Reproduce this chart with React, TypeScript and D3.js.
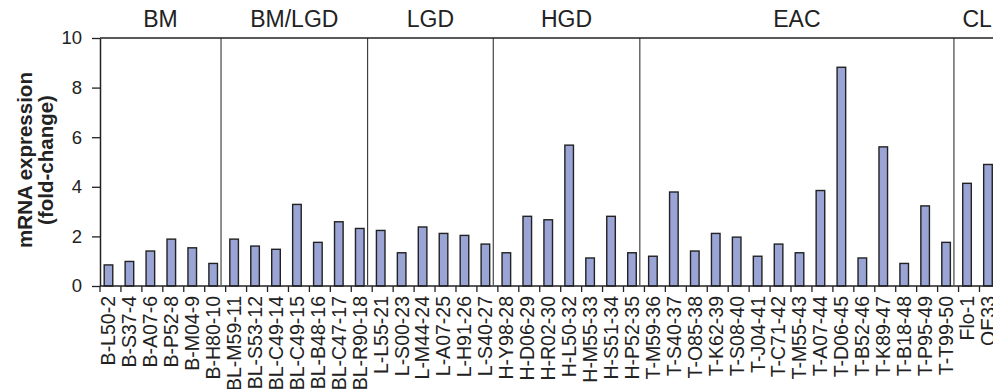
import React, { useEffect, useRef } from 'react';
import * as d3 from 'd3';

// sample names, in the order they are plotted
const samples = [
  'B-L50-2', 'B-S37-4', 'B-A07-6', 'B-P52-8', 'B-M04-9', 'B-H80-10',
  'BL-M59-11', 'BL-S53-12', 'BL-C49-14', 'BL-C49-15', 'BL-B48-16', 'BL-C47-17', 'BL-R90-18',
  'L-L55-21', 'L-S00-23', 'L-M44-24', 'L-A07-25', 'L-H91-26', 'L-S40-27',
  'H-Y98-28', 'H-D06-29', 'H-R02-30', 'H-L50-32', 'H-M55-33', 'H-S51-34', 'H-P52-35',
  'T-M59-36', 'T-S40-37', 'T-O85-38', 'T-K62-39', 'T-S08-40', 'T-J04-41', 'T-C71-42',
  'T-M55-43', 'T-A07-44', 'T-D06-45', 'T-B52-46', 'T-K89-47', 'T-B18-48', 'T-P95-49', 'T-T99-50',
  'Flo-1', 'OE33',
];

// mRNA fold-change per sample
const foldChange = [
  0.85, 0.99, 1.41, 1.89, 1.54, 0.91,
  1.89, 1.61, 1.48, 3.29, 1.76, 2.59, 2.32,
  2.24, 1.34, 2.38, 2.12, 2.04, 1.69,
  1.34, 2.81, 2.67, 5.68, 1.13, 2.81, 1.34,
  1.2, 3.79, 1.41, 2.12, 1.97, 1.2, 1.69,
  1.34, 3.85, 8.82, 1.13, 5.61, 0.91, 3.23, 1.76,
  4.14, 4.9,
];

const groupNames = ['BM', 'BM/LGD', 'LGD', 'HGD', 'EAC', 'CL'];
const groupSizes = [6, 7, 6, 7, 15, 2];

const yTicks = [0, 2, 4, 6, 8, 10];

const W = 993;
const H = 389;

const App = () => {
  const ref = useRef<SVGSVGElement>(null);

  useEffect(() => {
    const svg = d3.select(ref.current);
    svg.selectAll('*').remove();

    const font = "'Liberation Sans', Arial, sans-serif";
    const left = 100;
    const step = 20.94;
    const top = 38;
    const bottom = 286;

    const x = d3.scaleBand()
      .domain(samples)
      .range([left, left + samples.length * step])
      .padding(0);

    const y = d3.scaleLinear().domain([0, 10]).range([bottom, top]);

    const bw = x.bandwidth();

    // bars
    svg.append('g')
      .selectAll('rect')
      .data(samples)
      .enter().append('rect')
      .attr('x', d => x(d)! + bw * 0.2)
      .attr('width', bw * 0.41)
      .attr('y', (d, i) => y(foldChange[i]))
      .attr('height', (d, i) => y(0) - y(foldChange[i]))
      .attr('fill', '#9aa4d5')
      .attr('stroke', '#222')
      .attr('stroke-width', 1.4);

    // group separators and labels
    let start = 0;
    const bounds: number[] = [left];
    groupSizes.forEach((n, gi) => {
      start += n;
      if (gi < groupSizes.length - 1) bounds.push(x(samples[start])! - step * 0.22);
    });
    bounds.push(left + samples.length * step);

    svg.append('g')
      .selectAll('line')
      .data(bounds.slice(1, -1))
      .enter().append('line')
      .attr('x1', d => d).attr('x2', d => d)
      .attr('y1', top).attr('y2', bottom - 1)
      .attr('stroke', '#333')
      .attr('stroke-width', 1.1);

    svg.append('g')
      .selectAll('text')
      .data(groupNames)
      .enter().append('text')
      .attr('x', (d, i) => (bounds[i] + bounds[i + 1]) / 2)
      .attr('y', 27)
      .attr('text-anchor', 'middle')
      .style('font-family', font)
      .style('font-size', '23px')
      .attr('fill', '#222')
      .text(d => d);

    // top frame line
    svg.append('line')
      .attr('x1', left).attr('x2', W)
      .attr('y1', top).attr('y2', top)
      .attr('stroke', '#222').attr('stroke-width', 1.5);

    // y axis
    const yAxis = svg.append('g')
      .attr('transform', `translate(${left},0)`)
      .call(d3.axisLeft(y).tickValues(yTicks).tickSize(8).tickPadding(10).tickSizeOuter(0));
    yAxis.select('.domain').attr('stroke', '#222').attr('stroke-width', 1.5);
    yAxis.selectAll('.tick line').attr('stroke', '#222').attr('stroke-width', 1.3);
    yAxis.selectAll('text')
      .style('font-family', font)
      .style('font-size', '18.5px')
      .attr('fill', '#222');

    // x axis: ticks on band edges
    svg.append('line')
      .attr('x1', left).attr('x2', W)
      .attr('y1', bottom).attr('y2', bottom)
      .attr('stroke', '#222').attr('stroke-width', 1.5);

    svg.append('g')
      .selectAll('line')
      .data(samples)
      .enter().append('line')
      .attr('x1', d => x(d)!).attr('x2', d => x(d)!)
      .attr('y1', bottom).attr('y2', bottom + 6)
      .attr('stroke', '#222').attr('stroke-width', 1.3);

    svg.append('g')
      .selectAll('text')
      .data(samples)
      .enter().append('text')
      .attr('transform', d => `translate(${x(d)! + bw * 0.4 + 7},${bottom + 10}) rotate(-90)`)
      .attr('text-anchor', 'end')
      .style('font-family', font)
      .style('font-size', '19.5px')
      .attr('fill', '#222')
      .text(d => d);

    // y title
    const title = svg.append('text')
      .attr('transform', `translate(0,160) rotate(-90)`)
      .attr('text-anchor', 'middle')
      .style('font-family', font)
      .style('font-size', '20.5px')
      .style('font-weight', 'bold')
      .attr('fill', '#222');
    title.append('tspan').attr('x', 0).attr('y', 32).text('mRNA expression');
    title.append('tspan').attr('x', 0).attr('y', 53).text('(fold-change)');
  }, []);

  return (
    <svg
      ref={ref}
      width={W}
      height={H}
      style={{ position: 'absolute', left: 0, top: 0, background: '#fff', overflow: 'hidden' }}
    />
  );
};

export default App;
